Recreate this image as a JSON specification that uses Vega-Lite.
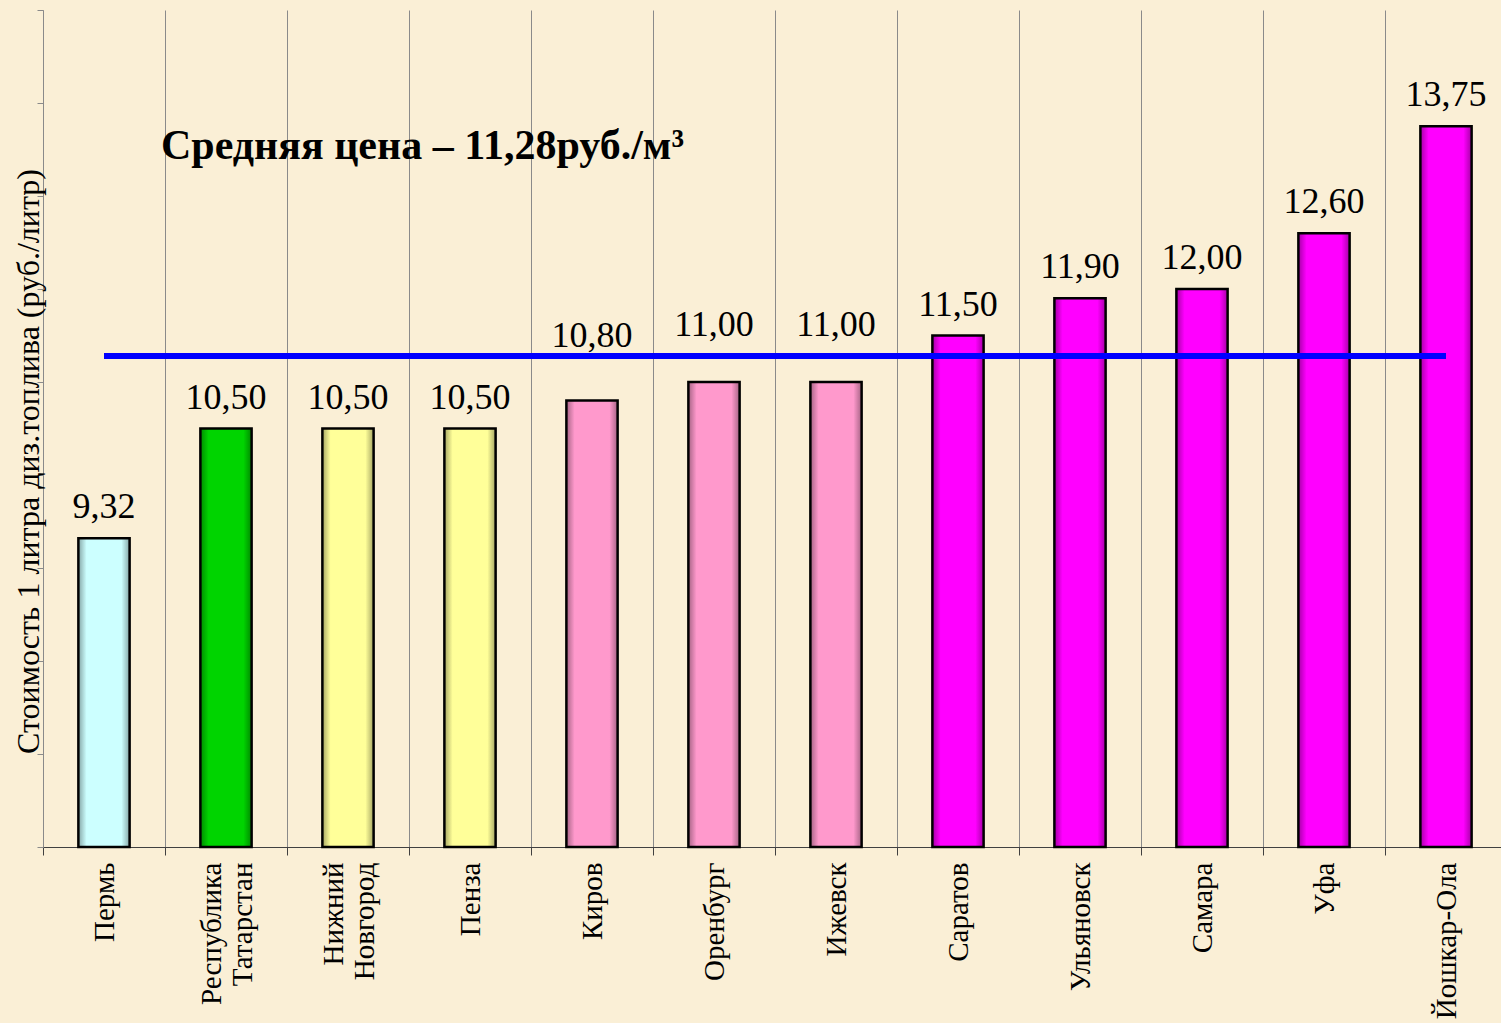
{
  "$schema": "https://vega.github.io/schema/vega-lite/v6.json",
  "width": 1458,
  "height": 837,
  "autosize": {"type": "none"},
  "padding": {"left": 43, "top": 10, "right": 0, "bottom": 176},
  "background": "#faefd6",
  "config": {
    "view": {"stroke": null},
    "font": "Liberation Serif",
    "locale": {"number": {"decimal": ",", "thousands": " ", "grouping": [3], "currency": ["", ""]}}
  },
  "data": {
    "values": [
      {"region": "Пермь", "price": 9.32, "group": "1"},
      {"region": "Республика\nТатарстан", "price": 10.5, "group": "2"},
      {"region": "Нижний\nНовгород", "price": 10.5, "group": "3"},
      {"region": "Пенза", "price": 10.5, "group": "3"},
      {"region": "Киров", "price": 10.8, "group": "4"},
      {"region": "Оренбург", "price": 11.0, "group": "4"},
      {"region": "Ижевск", "price": 11.0, "group": "4"},
      {"region": "Саратов", "price": 11.5, "group": "5"},
      {"region": "Ульяновск", "price": 11.9, "group": "5"},
      {"region": "Самара", "price": 12.0, "group": "5"},
      {"region": "Уфа", "price": 12.6, "group": "5"},
      {"region": "Йошкар-Ола", "price": 13.75, "group": "5"}
    ]
  },
  "encoding": {
    "x": {
      "field": "region",
      "type": "nominal",
      "sort": null,
      "scale": {"range": [0, 1464], "paddingInner": 0.58, "paddingOuter": 0.29},
      "axis": {
        "title": null,
        "grid": true,
        "gridColor": "#8a8a8a",
        "gridWidth": 1,
        "tickOffset": -61,
        "labelOffset": {"condition": {"test": "indexof(datum.value, '\\n') >= 0", "value": 46}, "value": 61},
        "domainColor": "#404040",
        "domainWidth": 1,
        "tickColor": "#404040",
        "tickSize": 8,
        "labelAngle": 270,
        "labelAlign": "right",
        "labelBaseline": "middle",
        "labelFont": "Liberation Serif",
        "labelFontSize": 29,
        "labelColor": "#000000",
        "labelPadding": 7,
        "labelLineHeight": 31,
        "labelExpr": "split(datum.label, '\\n')"
      }
    }
  },
  "layer": [
    {
      "mark": {"type": "bar", "stroke": "#000000", "strokeWidth": 2.5},
      "encoding": {
        "y": {
          "field": "price",
          "type": "quantitative",
          "scale": {"domain": [6, 15], "nice": false, "zero": false},
          "axis": {
            "title": "Стоимость 1 литра диз.топлива  (руб./литр)",
            "titleFont": "Liberation Serif",
            "titleFontSize": 32,
            "titleFontWeight": "normal",
            "titleColor": "#000000",
            "titleAngle": 270,
            "titleX": -15,
            "titleY": 451,
            "titleAlign": "center",
            "titleBaseline": "middle",
            "labels": false,
            "grid": false,
            "values": [6, 7, 8, 9, 10, 11, 12, 13, 14, 15],
            "tickSize": 6,
            "tickColor": "#8a8a8a",
            "domainColor": "#8a8a8a"
          }
        },
        "y2": {"datum": 6},
        "color": {
          "field": "group",
          "type": "nominal",
          "scale": {"domain": ["1", "2", "3", "4", "5"], "range": ["#ccffff", "#00d400", "#ffff99", "#ff99cc", "#ff00ff"]},
          "legend": null
        }
      }
    },
    {
      "mark": {
        "type": "bar",
        "strokeWidth": 0,
        "fill": {
          "x1": 0, "x2": 1, "y1": 0, "y2": 0,
          "gradient": "linear",
          "stops": [
            {"offset": 0, "color": "rgba(0,0,0,0.35)"},
            {"offset": 0.16, "color": "rgba(0,0,0,0)"},
            {"offset": 0.84, "color": "rgba(0,0,0,0)"},
            {"offset": 1, "color": "rgba(0,0,0,0.35)"}
          ]
        }
      },
      "encoding": {
        "y": {"field": "price", "type": "quantitative"},
        "y2": {"datum": 6}
      }
    },
    {
      "mark": {"type": "line", "color": "#0000ff", "strokeWidth": 6},
      "encoding": {
        "y": {"datum": 11.28}
      }
    },
    {
      "transform": [{"filter": "datum.price < 10.7 || datum.price >= 11.28"}],
      "mark": {"type": "text", "baseline": "alphabetic", "dy": -20, "fontSize": 36, "font": "Liberation Serif", "color": "#000000"},
      "encoding": {
        "y": {"field": "price", "type": "quantitative"},
        "text": {"field": "price", "type": "quantitative", "format": ".2f"}
      }
    },
    {
      "transform": [{"filter": "datum.price >= 10.7 && datum.price < 10.9"}],
      "mark": {"type": "text", "baseline": "alphabetic", "dy": -54, "fontSize": 36, "font": "Liberation Serif", "color": "#000000"},
      "encoding": {
        "y": {"field": "price", "type": "quantitative"},
        "text": {"field": "price", "type": "quantitative", "format": ".2f"}
      }
    },
    {
      "transform": [{"filter": "datum.price >= 10.9 && datum.price < 11.28"}],
      "mark": {"type": "text", "baseline": "alphabetic", "dy": -46, "fontSize": 36, "font": "Liberation Serif", "color": "#000000"},
      "encoding": {
        "y": {"field": "price", "type": "quantitative"},
        "text": {"field": "price", "type": "quantitative", "format": ".2f"}
      }
    },
    {
      "data": {"values": [{"note": "Средняя цена – 11,28руб./м³"}]},
      "mark": {"type": "text", "align": "left", "baseline": "alphabetic", "dx": 57, "fontSize": 42, "fontWeight": "bold", "font": "Liberation Serif", "color": "#000000"},
      "encoding": {
        "x": {"datum": "Пермь"},
        "y": {"datum": 13.4},
        "text": {"field": "note", "type": "nominal"}
      }
    }
  ]
}
